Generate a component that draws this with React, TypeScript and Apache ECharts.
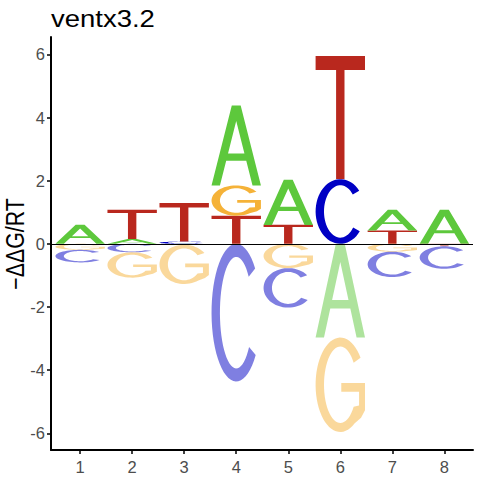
import React, { useEffect, useRef } from "react";
import * as echarts from "echarts";

// ---- data ----
const positions = [1, 2, 3, 4, 5, 6, 7, 8];
const letters = ["A", "C", "G", "T"];
const valuesA = [0.6, 0.15, -0.03, 2.53, 1.43, -2.97, 0.66, 1.08];
const valuesC = [-0.4, -0.27, 0.07, -4.36, -1.25, 2.05, -0.8, -0.71];
const valuesG = [-0.19, -0.8, -1.24, 0.96, -0.77, -2.99, -0.25, 0];
const valuesT = [0, 0.93, 1.22, 0.89, 0.6, 3.9, 0.42, -0.08];
const yTicks = [-6, -4, -2, 0, 2, 4, 6];
const titleText = "ventx3.2";
const yAxisName = "\u2212\u0394\u0394G/RT";

// ---- styles ----
const FONT = "'Liberation Sans', Arial, sans-serif";
const STRETCH = 1.18;
const letterColors: Record<string, number[]> = {
  A: [93, 200, 60],
  C: [0, 0, 196],
  G: [245, 178, 56],
  T: [185, 40, 30],
};

// ---- glyph outlines in a 100x100 box (y down) ----
function ellipsePts(cx: number, cy: number, rx: number, ry: number, a0: number, a1: number, n: number) {
  const pts: number[][] = [];
  for (let i = 0; i <= n; i++) {
    const a = ((a0 + ((a1 - a0) * i) / n) * Math.PI) / 180;
    pts.push([cx + rx * Math.cos(a), cy + ry * Math.sin(a)]);
  }
  return pts;
}
function toPath(pts: number[][]) {
  return "M" + pts.map((p) => p[0].toFixed(2) + " " + p[1].toFixed(2)).join(" L") + " Z";
}
const glyphT = "M0 0 L100 0 L100 11.5 L58.5 11.5 L58.5 100 L41.5 100 L41.5 11.5 L0 11.5 Z";
const glyphA =
  "M0 100 L41 0 L59 0 L100 100 L83 100 L70.3 69 L29.7 69 L17 100 Z M50 19.5 L33.4 60 L66.6 60 Z";
const glyphC = toPath([
  ...ellipsePts(50, 50, 50, 50, -40, -322, 48),
  ...ellipsePts(50, 50, 33, 40.5, -322, -40, 48),
]);
const glyphG = toPath([
  ...ellipsePts(50, 50, 50, 50, -35, -305, 48),
  [92, 85],
  [100, 77],
  [100, 48],
  [52, 48],
  [52, 57.5],
  [88, 57.5],
  [88, 72],
  ...ellipsePts(50, 50, 33, 40.5, -325, -35, 48),
]);
const glyphs: Record<string, string> = { A: glyphA, C: glyphC, G: glyphG, T: glyphT };

function buildItems() {
  const cols = [valuesA, valuesC, valuesG, valuesT];
  const items: number[][] = [];
  positions.forEach((x, i) => {
    const entries = letters.map((l, li) => ({ li, v: cols[li][i] })).filter((e) => e.v !== 0);
    const pos = entries.filter((e) => e.v > 0).sort((a, b) => a.v - b.v);
    const neg = entries.filter((e) => e.v < 0).sort((a, b) => b.v - a.v);
    let acc = 0;
    pos.forEach((e) => {
      items.push([x, acc, acc + e.v, e.li, 0]);
      acc += e.v;
    });
    acc = 0;
    neg.forEach((e) => {
      items.push([x, acc, acc + e.v, e.li, 1]);
      acc += e.v;
    });
  });
  return items;
}

export default function App() {
  const ref = useRef<HTMLDivElement>(null);
  useEffect(() => {
    if (!ref.current) return;
    const chart = echarts.init(ref.current, null, { renderer: "svg" });
    const halfW = 0.475;
    chart.setOption({
      animation: false,
      backgroundColor: "#ffffff",
      graphic: [
        {
          type: "text",
          x: 51,
          y: 18.8,
          scaleX: STRETCH,
          silent: true,
          style: {
            text: titleText,
            fontSize: 23.3,
            fontFamily: FONT,
            fill: "#000",
            align: "left",
            verticalAlign: "middle",
          },
        },
        {
          type: "text",
          x: 15.8,
          y: 244,
          rotation: Math.PI / 2,
          scaleY: STRETCH,
          silent: true,
          style: {
            text: yAxisName,
            fontSize: 21.3,
            fontFamily: FONT,
            fill: "#000",
            align: "center",
            verticalAlign: "middle",
          },
        },
      ],
      grid: { left: 51, right: 7, top: 37, bottom: 30, containLabel: false, outerBoundsMode: "none" },
      xAxis: {
        type: "value",
        min: 0.44,
        max: 8.55,
        axisLine: { show: true, onZero: false, lineStyle: { color: "#000", width: 2 } },
        axisTick: { show: true, length: 4, lineStyle: { color: "#000", width: 1.5 }, customValues: positions },
        axisLabel: { customValues: positions, color: "#4D4D4D", fontSize: 16.5, margin: 8, fontFamily: FONT },
        splitLine: { show: false },
      },
      yAxis: {
        type: "value",
        min: -6.53,
        max: 6.55,
        axisLine: { show: true, onZero: false, lineStyle: { color: "#000", width: 2 } },
        axisTick: { show: true, length: 4, lineStyle: { color: "#000", width: 1.5 }, customValues: yTicks },
        axisLabel: { customValues: yTicks, color: "#4D4D4D", fontSize: 16.5, margin: 6, fontFamily: FONT },
        splitLine: { show: false },
      },
      series: [
        {
          type: "custom",
          data: buildItems(),
          clip: false,
          renderItem: (params: any, api: any) => {
            const x = api.value(0);
            const y0 = api.value(1);
            const y1 = api.value(2);
            const li = api.value(3);
            const neg = api.value(4);
            const p0 = api.coord([x - halfW, Math.max(y0, y1)]);
            const p1 = api.coord([x + halfW, Math.min(y0, y1)]);
            const w = p1[0] - p0[0];
            const h = p1[1] - p0[1];
            const letter = letters[li];
            const c = letterColors[letter];
            const fill = neg
              ? `rgba(${c[0]},${c[1]},${c[2]},0.5)`
              : `rgb(${c[0]},${c[1]},${c[2]})`;
            return {
              type: "path",
              x: p0[0],
              y: p0[1],
              scaleX: w / 100,
              scaleY: h / 100,
              shape: { pathData: glyphs[letter] },
              style: { fill, stroke: null },
            };
          },
          markLine: {
            silent: true,
            symbol: ["none", "none"],
            label: { show: false },
            lineStyle: { color: "#000", width: 1.2, type: "solid" },
            data: [{ yAxis: 0 }],
          },
        },
      ],
    });
    return () => chart.dispose();
  }, []);
  return (
    <div
      ref={ref}
      style={{ position: "fixed", left: 0, top: 0, width: 480, height: 480, background: "#fff" }}
    />
  );
}
